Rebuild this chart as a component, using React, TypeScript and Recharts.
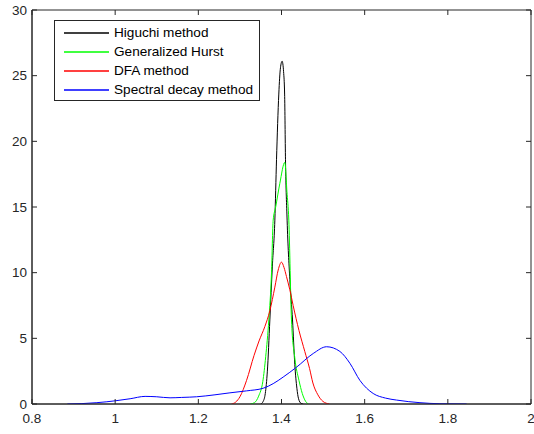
import { LineChart, Line, XAxis, YAxis, Legend, ReferenceArea, ReferenceLine } from 'recharts';

const xTicks = [0.8, 1, 1.2, 1.4, 1.6, 1.8, 2];
const yTicks = [0, 5, 10, 15, 20, 25, 30];

const higuchiX = [1.35, 1.356, 1.361, 1.366, 1.372, 1.378, 1.384, 1.388, 1.3935, 1.3975, 1.4015, 1.405, 1.4075, 1.4096, 1.4135, 1.42, 1.4265, 1.432, 1.437, 1.441, 1.447, 1.452];
const higuchiY = [0, 0.2, 0.8, 2.5, 6.4, 10.5, 14, 18.6, 23.6, 25.6, 26.1, 25.3, 23.6, 18.6, 14, 9.5, 6.4, 3, 1.2, 0.4, 0.05, 0];

const hurstX = [1.325, 1.335, 1.345, 1.355, 1.362, 1.3695, 1.376, 1.38, 1.386, 1.396, 1.408, 1.413, 1.4176, 1.424, 1.432, 1.442, 1.45, 1.458, 1.465];
const hurstY = [0, 0.1, 0.6, 1.7, 3.6, 6.4, 10, 14, 15, 16.8, 18.4, 16.2, 14, 6.4, 3.5, 1.8, 0.8, 0.2, 0];

const dfaX = [1.28, 1.29, 1.3, 1.316, 1.334, 1.346, 1.36, 1.372, 1.384, 1.392, 1.4, 1.406, 1.412, 1.42, 1.428, 1.442, 1.456, 1.4675, 1.4755, 1.4875, 1.4995, 1.515];
const dfaY = [0, 0.15, 0.55, 1.8, 3.7, 4.8, 5.9, 7.1, 8.9, 10.2, 10.8, 10.4, 9.7, 8.7, 7.5, 5.6, 4.0, 2.7, 1.6, 0.7, 0.2, 0];

const spectralX = [0.885, 0.92, 0.956, 0.98, 1.002, 1.036, 1.072, 1.1, 1.132, 1.16, 1.196, 1.24, 1.276, 1.316, 1.356, 1.38, 1.404, 1.436, 1.4765, 1.5085, 1.5405, 1.5645, 1.5885, 1.6205, 1.65, 1.6765, 1.733, 1.781, 1.845];
const spectralY = [0, 0.03, 0.1, 0.17, 0.25, 0.4, 0.58, 0.55, 0.47, 0.5, 0.55, 0.7, 0.85, 1.0, 1.2, 1.55, 2.05, 2.8, 3.85, 4.36, 4.0, 3.1, 1.8, 0.8, 0.45, 0.3, 0.1, 0.02, 0];

const seriesNames = ['Higuchi method', 'Generalized Hurst', 'DFA method', 'Spectral decay method'];
const seriesColors = ['#000000', '#00ff00', '#ff0000', '#0000ff'];

const toPoints = (xs: number[], ys: number[]) => xs.map((x, i) => ({ x, y: ys[i] }));

const series = [
  toPoints(higuchiX, higuchiY),
  toPoints(hurstX, hurstY),
  toPoints(dfaX, dfaY),
  toPoints(spectralX, spectralY),
];

const X_MIN = xTicks[0];
const X_MAX = xTicks[xTicks.length - 1];
const Y_MIN = yTicks[0];
const Y_MAX = yTicks[yTicks.length - 1];
// inward tick length on the top / right edges (about 5px)
const TOP_TICK = 0.38;
const RIGHT_TICK = 0.012;

const FONT = 'Arial, "Liberation Sans", Helvetica, sans-serif';
const AXIS = '#262626';

function LegendBox() {
  return (
    <div
      style={{
        border: `1px solid ${AXIS}`,
        background: '#fff',
        width: 204,
        padding: '2px 0 1px',
        fontFamily: FONT,
        fontSize: 13.6,
        color: '#000',
      }}
    >
      {seriesNames.map((name, i) => (
        <div key={name} style={{ display: 'flex', alignItems: 'center', height: 19 }}>
          <svg width={45} height={4} style={{ marginLeft: 9, marginRight: 5, display: 'block' }}>
            <line x1={0} y1={2} x2={45} y2={2} stroke={seriesColors[i]} strokeWidth={1.4} />
          </svg>
          <span style={{ whiteSpace: 'nowrap' }}>{name}</span>
        </div>
      ))}
    </div>
  );
}

export default function App() {
  const tickStyle = { fill: AXIS, fontSize: 13.5, fontFamily: FONT };
  return (
    <div style={{ position: 'absolute', left: 0, top: 0, width: 534, height: 434, background: '#fff' }}>
      <LineChart width={534} height={434} margin={{ top: 10, right: 3, bottom: 0, left: 0 }}>
        <XAxis
          dataKey="x"
          type="number"
          domain={[X_MIN, X_MAX]}
          ticks={xTicks}
          interval={0}
          allowDataOverflow
          height={30}
          tickSize={-5}
          tickMargin={14}
          stroke={AXIS}
          tick={tickStyle}
          tickFormatter={(v: number) => String(v)}
        />
        <YAxis
          type="number"
          domain={[Y_MIN, Y_MAX]}
          ticks={yTicks}
          interval={0}
          allowDataOverflow
          width={32}
          tickSize={-5}
          tickMargin={10}
          stroke={AXIS}
          tick={tickStyle}
        />
        <ReferenceArea
          x1={X_MIN}
          x2={X_MAX}
          y1={Y_MIN}
          y2={Y_MAX}
          fill="none"
          stroke={AXIS}
          strokeWidth={1}
        />
        {xTicks.map((t) => (
          <ReferenceLine
            key={`tt${t}`}
            segment={[{ x: t, y: Y_MAX }, { x: t, y: Y_MAX - TOP_TICK }]}
            stroke={AXIS}
          />
        ))}
        {yTicks.map((t) => (
          <ReferenceLine
            key={`rt${t}`}
            segment={[{ x: X_MAX, y: t }, { x: X_MAX - RIGHT_TICK, y: t }]}
            stroke={AXIS}
          />
        ))}
        {series.map((pts, i) => (
          <Line
            key={seriesNames[i]}
            data={pts}
            dataKey="y"
            name={seriesNames[i]}
            type="monotone"
            stroke={seriesColors[i]}
            strokeWidth={1}
            dot={false}
            activeDot={false}
            isAnimationActive={false}
          />
        ))}
        <Legend
          layout="vertical"
          align="center"
          verticalAlign="middle"
          wrapperStyle={{ top: 20, left: 54, width: 'auto' }}
          content={() => <LegendBox />}
        />
      </LineChart>
    </div>
  );
}
